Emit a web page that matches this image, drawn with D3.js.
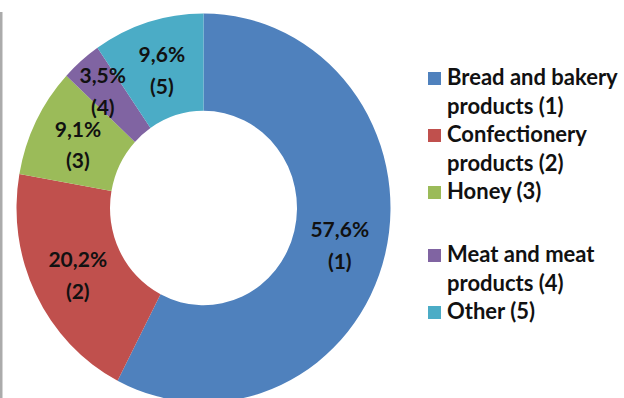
<!DOCTYPE html>
<html>
<head>
<meta charset="utf-8">
<script src="https://cdn.jsdelivr.net/npm/d3@7"></script>
<style>
  html, body { margin: 0; padding: 0; background: #fff; }
  svg { display: block; }
  text { font-family: Lato, "Open Sans", sans-serif; font-weight: bold; fill: #111; }
</style>
</head>
<body>
<svg id="chart" width="624" height="398"></svg>
<script>
// Product groups and their shares (%)
const categories = ["Bread and bakery products", "Confectionery products", "Honey", "Meat and meat products", "Other"];
const codes = [1, 2, 3, 4, 5];
const shares = [57.6, 20.2, 9.1, 3.5, 9.6];
const valueLabels = ["57,6%", "20,2%", "9,1%", "3,5%", "9,6%"];
const legendLines = [
  ["Bread and bakery", "products (1)"],
  ["Confectionery", "products (2)"],
  ["Honey (3)"],
  ["Meat and meat", "products (4)"],
  ["Other (5)"]
];
const colors = ["#4F81BD", "#C0504D", "#9BBB59", "#8064A2", "#4BACC6"];

const W = 624, H = 398;
const cx = 203.5, cy = 208;
const outerR = 187, innerR = 93.5;
const yStretch = 1.04;

const svg = d3.select("#chart");

// thin frame edge on the left
svg.append("rect").attr("x", 0).attr("y", 12).attr("width", 2.5).attr("height", H - 12).attr("fill", "#ababab");

const data = categories.map((c, i) => ({ name: c, code: codes[i], value: shares[i], label: valueLabels[i], color: colors[i] }));

const pie = d3.pie().value(d => d.value).sort(null);
const arc = d3.arc().innerRadius(innerR).outerRadius(outerR);
const labelArc = d3.arc().innerRadius((innerR + outerR) / 2).outerRadius((innerR + outerR) / 2);

const arcs = pie(data);

const g = svg.append("g").attr("transform", `translate(${cx},${cy}) scale(1,${yStretch})`);
g.selectAll("path").data(arcs).join("path")
  .attr("d", arc)
  .attr("fill", d => d.data.color);

// the thin purple slice's label sits slightly up and left to clear its neighbours
const labelNudge = [[0, 0], [0, 0], [0, -1], [-9, -9], [0, -1]];

const labels = svg.append("g").attr("transform", `translate(${cx},${cy})`);
arcs.forEach((a, i) => {
  const [x, y] = labelArc.centroid(a);
  const px = x + labelNudge[i][0];
  const py = y * yStretch + labelNudge[i][1];
  const t = labels.append("text")
    .attr("text-anchor", "middle")
    .attr("font-size", 21)
    .attr("x", px).attr("y", py);
  t.append("tspan").attr("x", px).attr("dy", "-0.25em").text(a.data.label);
  t.append("tspan").attr("x", px).attr("dy", "1.5em").text(`(${a.data.code})`);
});

// legend
const legend = svg.append("g").attr("transform", "translate(428,0)");
const lineH = 28.5;
const groupStarts = [85, 142, 199, 262, 319];
data.forEach((d, i) => {
  const top = groupStarts[i];
  legend.append("rect").attr("x", 0).attr("y", top - 13).attr("width", 13).attr("height", 13).attr("fill", d.color);
  legendLines[i].forEach((ln, j) => {
    legend.append("text").attr("x", 19).attr("y", top + j * lineH)
      .attr("font-size", 22).text(ln);
  });
});
</script>
</body>
</html>
